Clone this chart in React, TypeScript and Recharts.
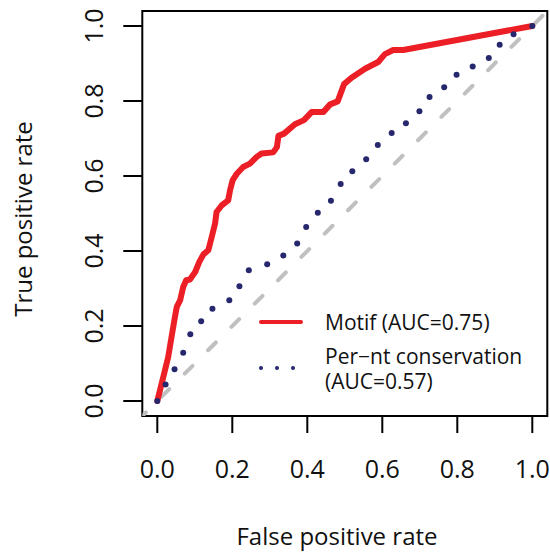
import React from 'react';
import { LineChart, Line, XAxis, YAxis, ReferenceArea } from 'recharts';

// ---- data ----
const axisTicks = [0, 0.2, 0.4, 0.6, 0.8, 1.0];

const motifFpr = [
  0, 0.016, 0.029, 0.038, 0.047, 0.052, 0.061, 0.069, 0.077, 0.087, 0.101, 0.112,
  0.123, 0.136, 0.145, 0.154, 0.158, 0.172, 0.189, 0.194, 0.201, 0.212, 0.229, 0.247,
  0.265, 0.278, 0.309, 0.319, 0.323, 0.338, 0.367, 0.391, 0.412, 0.443, 0.461, 0.481,
  0.498, 0.518, 0.536, 0.554, 0.589, 0.607, 0.629, 0.656, 1.0,
];
const motifTpr = [
  0, 0.064, 0.117, 0.171, 0.224, 0.251, 0.269, 0.304, 0.322, 0.324, 0.344, 0.371,
  0.391, 0.402, 0.437, 0.473, 0.504, 0.522, 0.535, 0.562, 0.589, 0.606, 0.624, 0.633,
  0.651, 0.66, 0.663, 0.677, 0.707, 0.713, 0.738, 0.749, 0.771, 0.771, 0.791, 0.799,
  0.845, 0.862, 0.874, 0.886, 0.904, 0.925, 0.936, 0.936, 1.0,
];

const consFpr = [
  0, 0.022, 0.046, 0.069, 0.088, 0.117, 0.147, 0.192, 0.219, 0.244, 0.293, 0.336,
  0.373, 0.397, 0.428, 0.463, 0.489, 0.52, 0.557, 0.588, 0.625, 0.663, 0.699, 0.726,
  0.765, 0.798, 0.841, 0.884, 0.913, 0.95, 1.0,
];
const consTpr = [
  0, 0.044, 0.085, 0.129, 0.178, 0.213, 0.246, 0.269, 0.306, 0.349, 0.365, 0.388,
  0.42, 0.464, 0.502, 0.534, 0.579, 0.613, 0.645, 0.683, 0.715, 0.741, 0.773, 0.811,
  0.837, 0.87, 0.892, 0.915, 0.95, 0.978, 1.0,
];

const diagFpr = [-0.04, 1.04];
const diagTpr = [-0.04, 1.04];

const seriesNames = ['Motif (AUC=0.75)', 'Per\u2212nt conservation', '(AUC=0.57)'];
const xTitle = 'False positive rate';
const yTitle = 'True positive rate';

const motif = motifFpr.map((fpr, i) => ({ fpr, tpr: motifTpr[i] }));
const conservation = consFpr.map((fpr, i) => ({ fpr, tpr: consTpr[i] }));
const diagonal = diagFpr.map((fpr, i) => ({ fpr, tpr: diagTpr[i] }));

// ---- styles ----
const FONT = '"Open Sans", sans-serif';
const RED = '#ED1F26';
const NAVY = '#27276E';
const GRAY = '#C0C0C0';

const XTick = (props: any) => {
  const { x, y, payload } = props;
  return (
    <text x={x} y={y} dy="0.71em" textAnchor="middle" fontSize={25} fontFamily={FONT} fill="#111">
      {Number(payload.value).toFixed(1)}
    </text>
  );
};

const YTick = (props: any) => {
  const { x, y, payload } = props;
  return (
    <text
      x={x}
      y={y}
      transform={`rotate(-90 ${x} ${y})`}
      textAnchor="middle"
      fontSize={25}
      fontFamily={FONT}
      fill="#111"
    >
      {Number(payload.value).toFixed(1)}
    </text>
  );
};

const XTitle = () => (
  <text x={337} y={545} textAnchor="middle" fontSize={24} fontFamily={FONT} fill="#111">
    {xTitle}
  </text>
);

const YTitle = () => (
  <text
    x={32}
    y={219}
    transform="rotate(-90 32 219)"
    textAnchor="middle"
    fontSize={24}
    fontFamily={FONT}
    fill="#111"
  >
    {yTitle}
  </text>
);

export default function App() {
  return (
    <div style={{ position: 'absolute', left: 0, top: 0, width: 550, height: 554, background: '#fff' }}>
      <LineChart
        width={550}
        height={554}
        margin={{ top: 11, right: 2.7, left: 0, bottom: 0 }}
      >
        <XAxis
          dataKey="fpr"
          type="number"
          domain={[-0.04, 1.04]}
          allowDataOverflow
          ticks={axisTicks}
          interval={0}
          height={138}
          axisLine={false}
          tickLine={{ stroke: '#000', strokeWidth: 2 }}
          tickSize={17}
          tickMargin={27}
          tick={<XTick />}
          label={{ content: () => <XTitle /> }}
        />
        <YAxis
          dataKey="tpr"
          type="number"
          domain={[-0.04, 1.04]}
          allowDataOverflow
          ticks={axisTicks}
          interval={0}
          width={142.3}
          axisLine={false}
          tickLine={{ stroke: '#000', strokeWidth: 2 }}
          tickSize={19}
          tickMargin={20.3}
          tick={<YTick />}
          label={{ content: () => <YTitle /> }}
        />
        <Line
          data={diagonal}
          dataKey="tpr"
          stroke={GRAY}
          strokeWidth={4}
          strokeDasharray="11 22"
          strokeDashoffset={6}
          strokeLinecap="round"
          dot={false}
          activeDot={false}
          isAnimationActive={false}
        />
        <Line
          data={motif}
          dataKey="tpr"
          name={seriesNames[0]}
          stroke={RED}
          strokeWidth={6}
          strokeLinejoin="round"
          strokeLinecap="round"
          dot={false}
          activeDot={false}
          isAnimationActive={false}
        />
        <Line
          data={conservation}
          dataKey="tpr"
          name={seriesNames[1]}
          stroke="none"
          dot={{ r: 3, fill: NAVY, stroke: 'none' }}
          activeDot={false}
          isAnimationActive={false}
        />
        <ReferenceArea
          x1={-0.04}
          x2={1.04}
          y1={-0.04}
          y2={1.04}
          fill="none"
          fillOpacity={0}
          stroke="#000"
          strokeWidth={2}
          ifOverflow="visible"
        />
      </LineChart>
      <div style={{ position: 'absolute', left: 255, top: 300, width: 295, height: 100 }}>
        <svg width={295} height={100}>
          <line x1={6} y1={22} x2={46} y2={22} stroke={RED} strokeWidth={4} strokeLinecap="round" />
          <circle cx={6} cy={68} r={2} fill={NAVY} />
          <circle cx={22} cy={68} r={2} fill={NAVY} />
          <circle cx={38} cy={68} r={2} fill={NAVY} />
          <text x={70} y={30} fontSize={21} fontFamily={FONT} fill="#111">{seriesNames[0]}</text>
          <text x={70} y={64} fontSize={21} fontFamily={FONT} fill="#111">{seriesNames[1]}</text>
          <text x={70} y={89} fontSize={21} fontFamily={FONT} fill="#111">{seriesNames[2]}</text>
        </svg>
      </div>
    </div>
  );
}
